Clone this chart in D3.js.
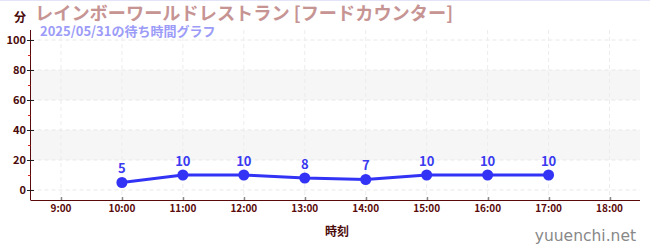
<!DOCTYPE html>
<html>
<head>
<meta charset="utf-8">
<script src="https://cdn.jsdelivr.net/npm/d3@7"></script>
<style>
body { margin: 0; background: #fff; }
svg { display: block; font-family: "Noto Sans CJK JP", "Noto Sans", sans-serif; }
</style>
</head>
<body>
<svg id="chart" width="650" height="250"></svg>
<script>
const hours = [10, 11, 12, 13, 14, 15, 16, 17];
const waits = [5, 10, 10, 8, 7, 10, 10, 10];
const xTicks = [9, 10, 11, 12, 13, 14, 15, 16, 17, 18];
const yTicks = [0, 20, 40, 60, 80, 100];
const yMinor = [10, 30, 50, 70, 90];
const bands = [[20, 40], [60, 80]];

const svg = d3.select("#chart");
const axisColor = "#5a0a0a";

const x = d3.scaleLinear([8.5, 18.5], [30.5, 640]);
const y = d3.scaleLinear([-6.667, 106.667], [200, 30]);

// top border
svg.append("line").attr("x1", 0).attr("x2", 650).attr("y1", 0.5).attr("y2", 0.5)
	.attr("stroke", "#e4e4f8").attr("stroke-width", 1);

// bands
svg.selectAll("rect.band")
	.data(bands)
	.join("rect")
	.attr("class", "band")
	.attr("x", x(8.5))
	.attr("width", x(18.5) - x(8.5))
	.attr("y", (d) => y(d[1]))
	.attr("height", (d) => y(d[0]) - y(d[1]))
	.attr("fill", "#f6f6f6");

// grid
svg.selectAll("line.hgrid")
	.data(yTicks)
	.join("line")
	.attr("class", "hgrid")
	.attr("x1", x(8.5)).attr("x2", x(18.5))
	.attr("y1", (d) => y(d)).attr("y2", (d) => y(d))
	.attr("stroke", "#e8e8e8").attr("stroke-dasharray", "4,3");

svg.selectAll("line.vgrid")
	.data(xTicks)
	.join("line")
	.attr("class", "vgrid")
	.attr("x1", (d) => x(d)).attr("x2", (d) => x(d))
	.attr("y1", 30).attr("y2", 200)
	.attr("stroke", "#ececec").attr("stroke-dasharray", "4,3");

// y axis
svg.append("line").attr("x1", 30.5).attr("x2", 30.5).attr("y1", 30).attr("y2", 200)
	.attr("stroke", axisColor).attr("stroke-width", 1);
svg.selectAll("line.ytick")
	.data(yTicks)
	.join("line")
	.attr("class", "ytick")
	.attr("x1", 27).attr("x2", 34)
	.attr("y1", (d) => Math.round(y(d)) + 0.5).attr("y2", (d) => Math.round(y(d)) + 0.5)
	.attr("stroke", "#222");
svg.selectAll("line.yminor")
	.data(yMinor)
	.join("line")
	.attr("class", "yminor")
	.attr("x1", 28).attr("x2", 30.5)
	.attr("y1", (d) => Math.round(y(d)) + 0.5).attr("y2", (d) => Math.round(y(d)) + 0.5)
	.attr("stroke", "#dd2222");
svg.selectAll("text.ylab")
	.data(yTicks)
	.join("text")
	.attr("class", "ylab")
	.attr("x", 26)
	.attr("y", (d) => y(d) + 4)
	.attr("text-anchor", "end")
	.attr("font-size", 11)
	.attr("font-weight", "bold")
	.attr("fill", "#4a0a0a")
	.text((d) => d);

// x axis
svg.append("line").attr("x1", 30.5).attr("x2", 640).attr("y1", 200.5).attr("y2", 200.5)
	.attr("stroke", axisColor).attr("stroke-width", 1.2);
svg.selectAll("line.xtick")
	.data(xTicks)
	.join("line")
	.attr("class", "xtick")
	.attr("x1", (d) => Math.round(x(d)) + 0.5).attr("x2", (d) => Math.round(x(d)) + 0.5)
	.attr("y1", 197).attr("y2", 200)
	.attr("stroke", "#888").attr("stroke-width", 1.5);
svg.selectAll("text.xlab")
	.data(xTicks)
	.join("text")
	.attr("class", "xlab")
	.attr("x", (d) => x(d))
	.attr("y", 212)
	.attr("text-anchor", "middle")
	.attr("font-size", 10)
	.attr("font-weight", "bold")
	.attr("fill", "#5a0a0a")
	.text((d) => d + ":00");

svg.append("text").attr("x", 337).attr("y", 236).attr("text-anchor", "middle")
	.attr("font-size", 12).attr("font-weight", "bold").attr("fill", "#4a0a0a").text("時刻");
svg.append("text").attr("x", 20).attr("y", 22).attr("text-anchor", "middle")
	.attr("font-size", 12).attr("font-weight", "bold").attr("fill", "#4a0a0a").text("分");

// titles
svg.append("text").attr("x", 35).attr("y", 20)
	.attr("font-size", 18.2).attr("font-weight", "bold").attr("fill", "#c79494")
	.text("レインボーワールドレストラン [フードカウンター]");
svg.append("text").attr("x", 40).attr("y", 36)
	.attr("font-size", 13).attr("font-weight", "bold").attr("fill", "#9c9cf8")
	.text("2025/05/31の待ち時間グラフ");

// line
const line = d3.line().x((d) => x(d[0])).y((d) => y(d[1]));
const pts = hours.map((h, i) => [h, waits[i]]);
svg.append("path").datum(pts).attr("d", line)
	.attr("fill", "none").attr("stroke", "#3333f5").attr("stroke-width", 3);
svg.selectAll("circle.pt")
	.data(pts)
	.join("circle")
	.attr("class", "pt")
	.attr("cx", (d) => x(d[0])).attr("cy", (d) => y(d[1]))
	.attr("r", 5.5)
	.attr("fill", "#3333f5");
svg.selectAll("text.val")
	.data(pts)
	.join("text")
	.attr("class", "val")
	.attr("x", (d) => x(d[0])).attr("y", (d) => y(d[1]) - 9)
	.attr("text-anchor", "middle")
	.attr("font-size", 13).attr("font-weight", "bold").attr("fill", "#3a3af0")
	.text((d) => d[1]);

// watermark
svg.append("text").attr("x", 636).attr("y", 241).attr("text-anchor", "end")
	.attr("font-family", "'DejaVu Sans', sans-serif")
	.attr("font-size", 15.5).attr("fill", "#888").text("yuuenchi.net");
</script>
</body>
</html>
